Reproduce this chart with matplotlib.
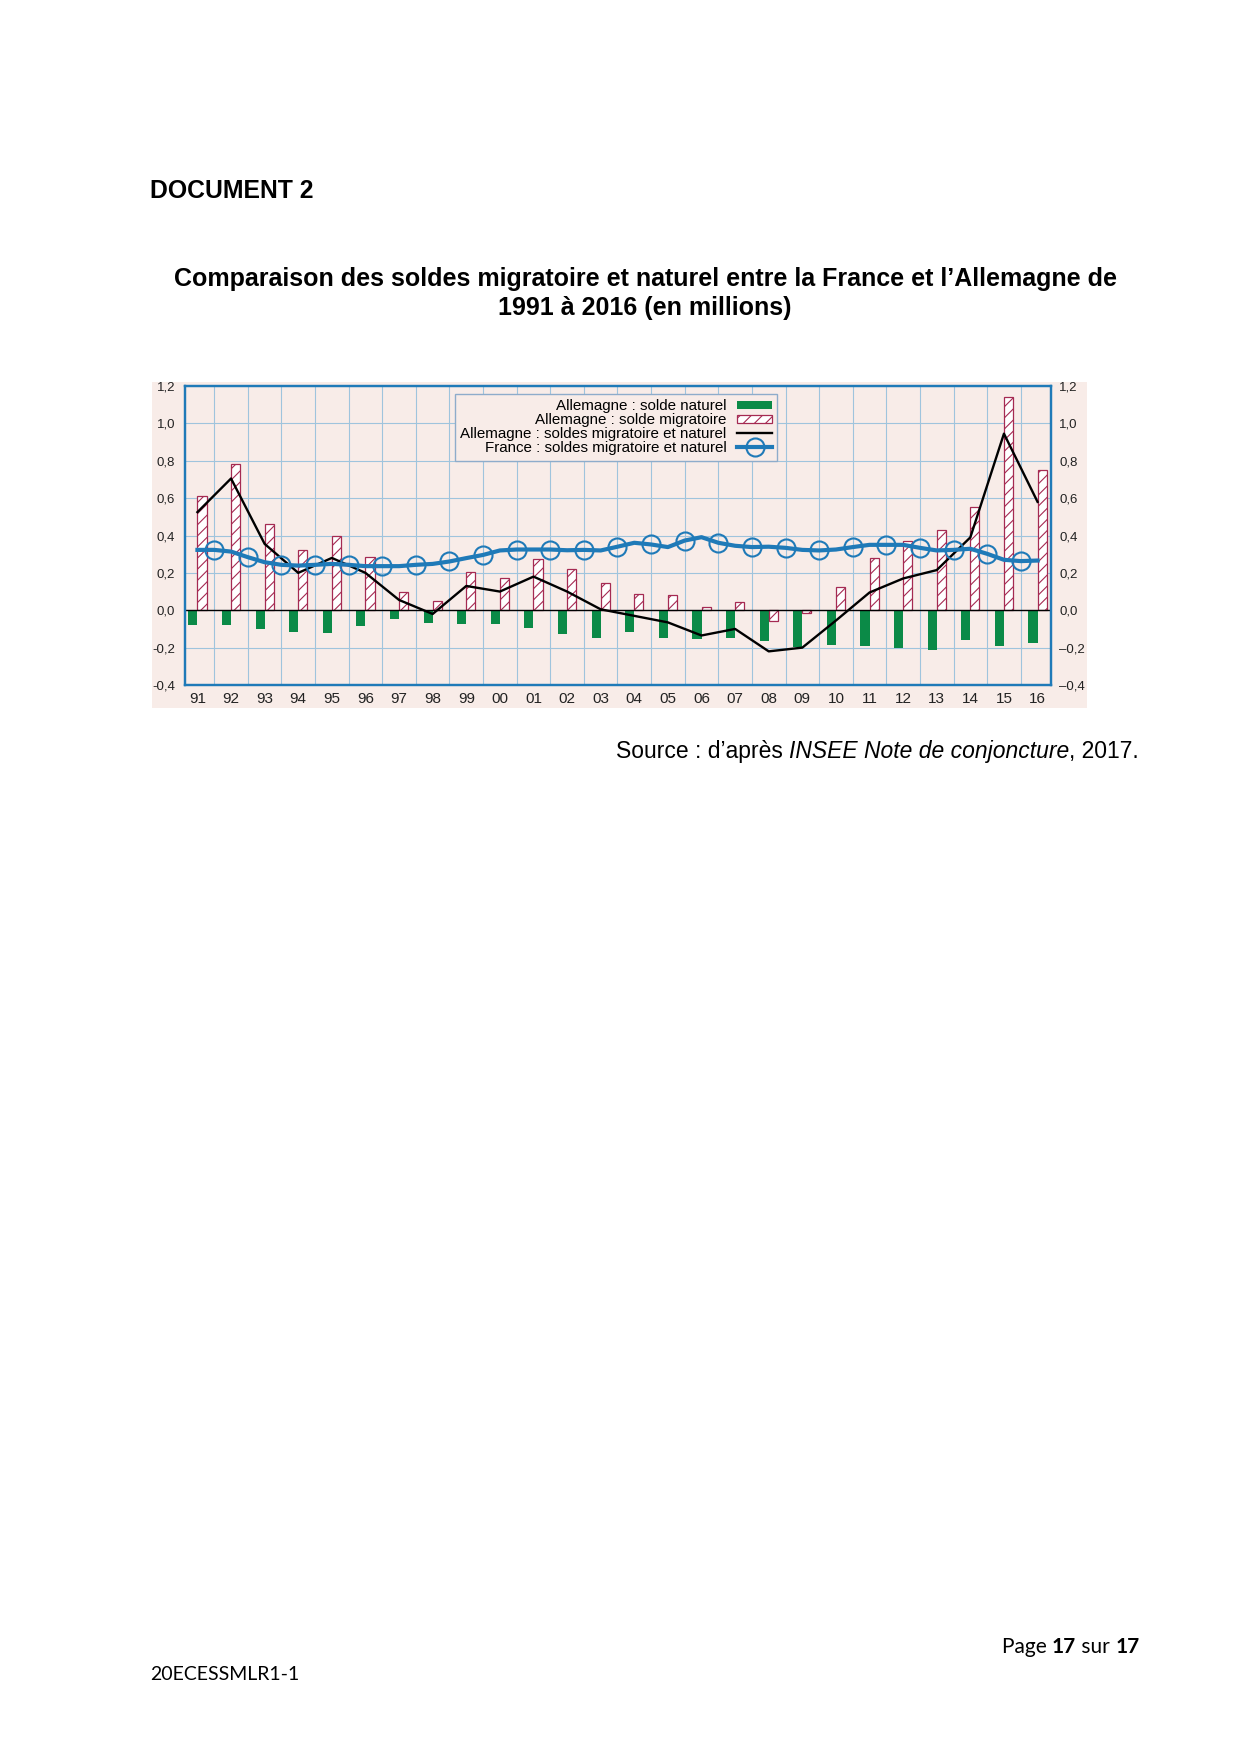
import numpy as np
import matplotlib
matplotlib.use('Agg')
import matplotlib.pyplot as plt
from matplotlib.patches import Rectangle, Patch
from matplotlib.lines import Line2D

plt.rcParams['font.family'] = ['Liberation Sans', 'DejaVu Sans']
plt.rcParams['hatch.linewidth'] = 0.8

#Data (millions)
years = ['91', '92', '93', '94', '95', '96', '97', '98', '99', '00', '01', '02', '03',
         '04', '05', '06', '07', '08', '09', '10', '11', '12', '13', '14', '15', '16']
de_naturel = [-0.08, -0.077, -0.098, -0.116, -0.121, -0.086, -0.048, -0.068, -0.075, -0.071,
              -0.095, -0.125, -0.15, -0.116, -0.15, -0.155, -0.15, -0.165, -0.195, -0.185,
              -0.19, -0.20, -0.215, -0.16, -0.19, -0.175]
de_migratoire = [0.61, 0.78, 0.46, 0.32, 0.40, 0.285, 0.095, 0.05, 0.205, 0.17, 0.275, 0.22,
                 0.145, 0.085, 0.08, 0.02, 0.045, -0.06, -0.015, 0.125, 0.28, 0.37, 0.43,
                 0.55, 1.14, 0.75]
de_total = [0.525, 0.705, 0.355, 0.20, 0.28, 0.20, 0.055, -0.02, 0.13, 0.10, 0.18, 0.10,
            0.005, -0.03, -0.065, -0.135, -0.10, -0.22, -0.20, -0.055, 0.095, 0.17, 0.215,
            0.39, 0.945, 0.58]
#France, read every half year (circles sit on the half years)
fr_total = [0.323, 0.323, 0.314, 0.284, 0.257, 0.243, 0.239, 0.243, 0.248, 0.243, 0.236,
            0.236, 0.236, 0.243, 0.248, 0.261, 0.279, 0.296, 0.32, 0.325, 0.325, 0.325,
            0.321, 0.323, 0.32, 0.34, 0.361, 0.352, 0.338, 0.373, 0.391, 0.361, 0.345,
            0.338, 0.34, 0.334, 0.323, 0.32, 0.325, 0.338, 0.35, 0.35, 0.35, 0.334, 0.32,
            0.323, 0.329, 0.302, 0.27, 0.263, 0.266]
yticks = [-0.4, -0.2, 0.0, 0.2, 0.4, 0.6, 0.8, 1.0, 1.2]
legend_labels = ['Allemagne : solde naturel', 'Allemagne : solde migratoire',
                 'Allemagne : soldes migratoire et naturel', 'France : soldes migratoire et naturel']

#colours
pink = '#f8ece8'
green = '#0b8a47'
crimson = '#a52a52'
blue = '#1f7ab8'
gridc = '#9fc4dd'

W, H = 1240, 1754
fig = plt.figure(figsize=(W/100, H/100), dpi=100)

def fx(px):
    return px/W

def fy(py):
    return 1 - py/H

#pink background behind the chart
bg = Rectangle((fx(152), fy(708)), fx(1087)-fx(152), fy(382)-fy(708),
               transform=fig.transFigure, facecolor=pink, edgecolor='none', zorder=-1)
fig.patches.append(bg)

ax = fig.add_axes([fx(185), fy(685), fx(1051)-fx(185), fy(386)-fy(685)])
ax.set_facecolor(pink)
x = np.arange(len(years))
w = 0.27
ax.bar(x - w/2, de_naturel, width=w, color=green, edgecolor='none', zorder=2)
ax.bar(x + w/2, de_migratoire, width=w, facecolor='white', edgecolor=crimson,
       hatch='///', linewidth=0.9, zorder=2)
ax.axhline(0, color='black', lw=1.0, zorder=2.5)
ax.plot(x, de_total, color='black', lw=1.7, zorder=3)
xf = np.arange(len(fr_total))/2
ax.plot(xf, fr_total, color=blue, lw=3.0, zorder=4, marker='o', markersize=13,
        markerfacecolor='none', markeredgecolor=blue, markeredgewidth=1.5,
        markevery=slice(1, None, 2))

ax.set_xlim(-0.37, 25.4)
ax.set_ylim(-0.4, 1.2)
ax.set_xticks(x)
ax.set_xticklabels(years)
ax.set_xticks(x[:-1] + 0.5, minor=True)
ax.set_yticks(yticks)
ax.set_yticklabels([('%.1f' % v).replace('.', ',') for v in yticks])
ax.grid(True, which='minor', axis='x', color=gridc, lw=0.8)
ax.grid(True, which='major', axis='y', color=gridc, lw=0.8)
ax.set_axisbelow(True)
ax.tick_params(which='both', length=0)
ax.tick_params(axis='y', pad=7, labelsize=9.5, labelcolor='#222222')
ax.tick_params(axis='x', pad=5, labelsize=11, labelcolor='#222222')
for s in ax.spines.values():
    s.set_color(blue)
    s.set_linewidth(1.6)

ax2 = ax.twinx()
ax2.set_ylim(ax.get_ylim())
ax2.set_yticks(yticks)
ax2.set_yticklabels([('%.1f' % v).replace('.', ',').replace('-', '\u2013') for v in yticks])
ax2.tick_params(length=0, pad=6, labelsize=9.5, labelcolor='#222222')
for s in ax2.spines.values():
    s.set_color(blue)
    s.set_linewidth(1.6)

#clip the top labels at the pink background like in the scan
for lab in ax.get_yticklabels() + ax2.get_yticklabels():
    lab.set_clip_on(True)
    lab.set_clip_path(bg)

handles = [Patch(facecolor=green, edgecolor='none'),
           Patch(facecolor='white', edgecolor=crimson, hatch='///', linewidth=0.9),
           Line2D([], [], color='black', lw=1.7),
           Line2D([], [], color=blue, lw=3.0, marker='o', markersize=13,
                  markerfacecolor='none', markeredgewidth=1.5)]
leg = ax.legend(handles, legend_labels, loc='upper left',
                bbox_to_anchor=(fx(455), fy(394)), bbox_transform=fig.transFigure,
                markerfirst=False, fontsize=10.9, frameon=True, fancybox=False,
                borderaxespad=0, borderpad=0.35, labelspacing=0.0, handlelength=2.3,
                handleheight=0.5, handletextpad=0.7)
leg.get_frame().set_facecolor(pink)
leg.get_frame().set_edgecolor('#8eaccb')
leg.get_frame().set_linewidth(1.0)
leg.get_frame().set_alpha(1)
leg.set_zorder(6)

#page texts
fig.text(fx(150), fy(191), 'DOCUMENT 2', fontsize=17.8, fontweight='bold', va='center')
fig.text(fx(645), fy(279), 'Comparaison des soldes migratoire et naturel entre la France et l\u2019Allemagne de',
         fontsize=18.0, fontweight='bold', ha='center', va='center')
fig.text(fx(645), fy(308), '1991 \u00e0 2016 (en millions)',
         fontsize=18.0, fontweight='bold', ha='center', va='center')

renderer = fig.canvas.get_renderer()

def chain(pieces, x_right, y, **kw):
    #draw pieces of text one after another, right aligned on x_right (pixels)
    tb = fig.text(0, 0, '|', **kw)
    bar_w = tb.get_window_extent(renderer).width
    tb.remove()
    widths = []
    for s, extra in pieces:
        t = fig.text(0, 0, s + '|', **kw, **extra)
        widths.append(t.get_window_extent(renderer).width - bar_w)
        t.remove()
    xpos = x_right - sum(widths)
    for (s, extra), wd in zip(pieces, widths):
        fig.text(fx(xpos), fy(y), s, va='center', **kw, **extra)
        xpos += wd

chain([('Source : d\u2019apr\u00e8s ', {}), ('INSEE Note de conjoncture', {'style': 'italic'}),
       (', 2017.', {})], 1139, 752, fontsize=16.5)
chain([('Page ', {}), ('17', {'fontweight': 'bold'}), (' sur ', {}), ('17', {'fontweight': 'bold'})],
      1140, 1647, fontsize=15, family=['Lato', 'DejaVu Sans'])
fig.text(fx(150), fy(1675), '20ECESSMLR1-1', fontsize=14, va='center', family=['Lato', 'DejaVu Sans'])

fig.savefig('out.png', dpi=100)
